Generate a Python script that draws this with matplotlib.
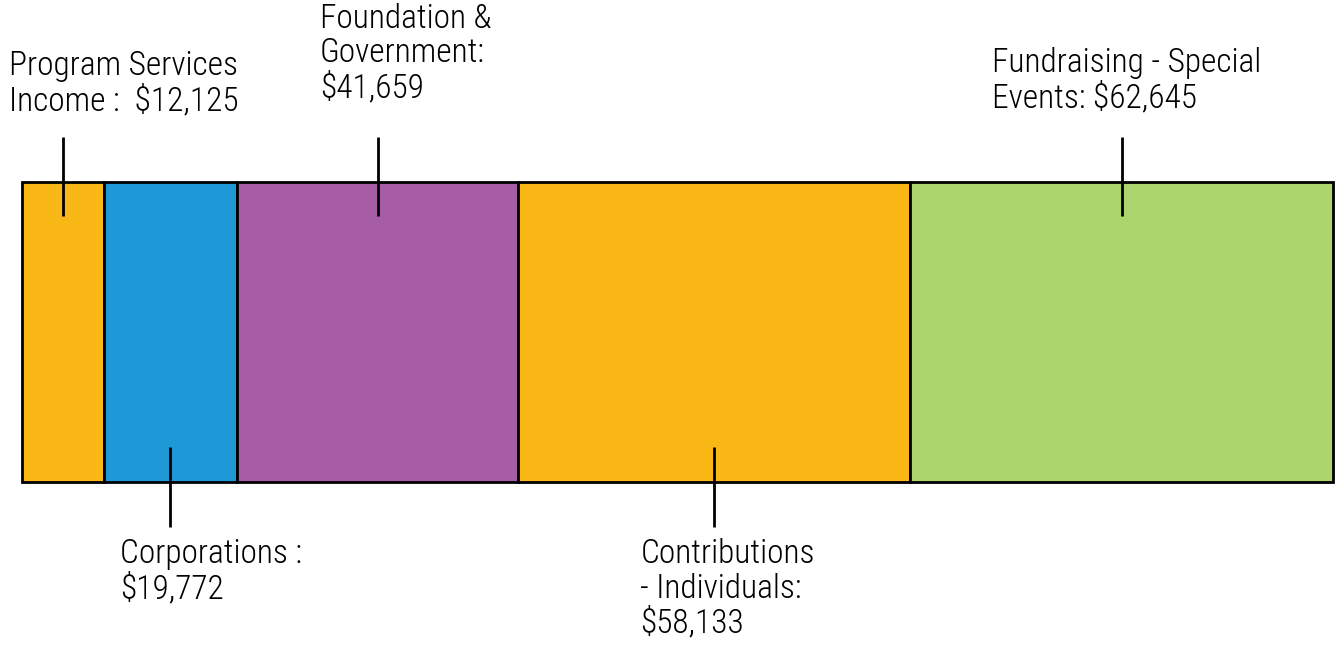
import matplotlib
matplotlib.use("Agg")
import matplotlib.pyplot as plt
from matplotlib import font_manager

labels = ["Program Services\nIncome :  $12,125",
          "Corporations :\n$19,772",
          "Foundation &\nGovernment:\n$41,659",
          "Contributions\n- Individuals:\n$58,133",
          "Fundraising - Special\nEvents: $62,645"]
values = [12125, 19772, 41659, 58133, 62645]
colors = ["#F9B815", "#1E98D6", "#A65DA5", "#F9B815", "#ADD56E"]
above = [True, False, True, False, True]
# label offsets (pixels) from segment middle / bar edge
text_dx = [-54, -50, -58, -74, -130]
text_dy = [132, -56, 179, -56, 135]

have = {f.name for f in font_manager.fontManager.ttflist}
family = "DejaVu Sans"
for cand in ["Liberation Sans Narrow", "Roboto Condensed", "Open Sans Condensed", "Roboto"]:
    if cand in have:
        family = cand
        break
plt.rcParams['font.family'] = [family, 'DejaVu Sans']

fig = plt.figure(figsize=(13.35, 6.48), dpi=100)
ax = fig.add_axes([22 / 1335, 166 / 648, 1311 / 1335, 300 / 648])
total = sum(values)
ax.set_xlim(0, total)
ax.set_ylim(0, 1)
ax.axis("off")

left = 0
for lab, v, c, up, dx, dy in zip(labels, values, colors, above, text_dx, text_dy):
    ax.barh(0.5, v, height=1, left=left, color=c, edgecolor="black", linewidth=2, clip_on=False)
    mid = left + v / 2
    if up:
        ax.plot([mid, mid], [1.15, 0.887], color="black", lw=2, clip_on=False, solid_capstyle="butt")
        yref = 1
    else:
        ax.plot([mid, mid], [0.117, -0.15], color="black", lw=2, clip_on=False, solid_capstyle="butt")
        yref = 0
    ax.annotate(lab, xy=(mid, yref), xytext=(dx, dy), textcoords="offset pixels",
                ha="left", va="top", fontsize=24, fontweight="light", linespacing=1.1,
                annotation_clip=False)
    left += v

fig.savefig("out.png", dpi=100)
